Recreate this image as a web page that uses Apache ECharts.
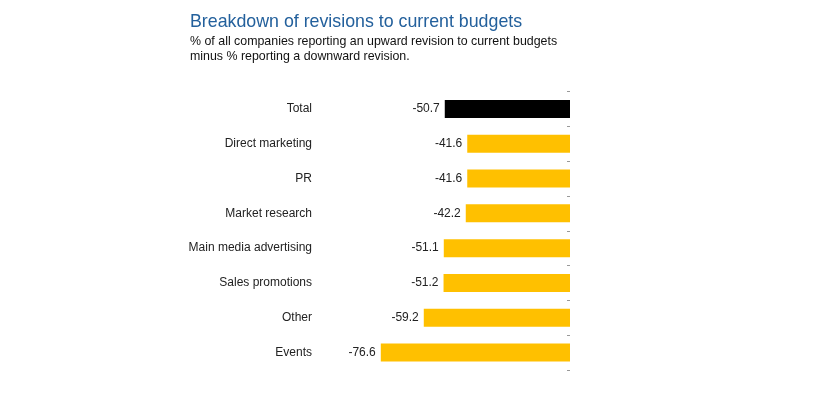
<!DOCTYPE html>
<html>
<head>
<meta charset="utf-8">
<script src="https://cdn.jsdelivr.net/npm/echarts@6/dist/echarts.min.js"></script>
<style>
  html, body { margin: 0; padding: 0; background: #fff; }
  #chart { width: 827px; height: 398px; }
</style>
</head>
<body>
<div id="chart"></div>
<script>
const categories = [
  "Total",
  "Direct marketing",
  "PR",
  "Market research",
  "Main media advertising",
  "Sales promotions",
  "Other",
  "Events",
];
const values = [-50.7, -41.6, -41.6, -42.2, -51.1, -51.2, -59.2, -76.6];
const barColors = ["#000000", "#FFC000", "#FFC000", "#FFC000", "#FFC000", "#FFC000", "#FFC000", "#FFC000"];

const chart = echarts.init(document.getElementById("chart"));
chart.setOption({
  animation: false,
  textStyle: { fontFamily: "Liberation Sans, Arial, sans-serif" },
  title: {
    text: "Breakdown of revisions to current budgets",
    subtext: "% of all companies reporting an upward revision to current budgets\nminus % reporting a downward revision.",
    left: 185,
    top: 8,
    itemGap: 3,
    textStyle: { color: "#23609c", fontSize: 17.8, fontWeight: "normal" },
    subtextStyle: { color: "#111", fontSize: 12.4, lineHeight: 15 },
  },
  grid: { left: 323, right: 257, top: 91.5, bottom: 28, containLabel: false },
  xAxis: {
    type: "value",
    min: -100,
    max: 0,
    show: false,
  },
  yAxis: [
    {
      type: "category",
      data: categories,
      inverse: true,
      position: "left",
      axisLine: { show: false },
      axisTick: { show: false },
      axisLabel: { color: "#222", fontSize: 12, margin: 11 },
    },
    {
      type: "category",
      data: categories,
      inverse: true,
      position: "right",
      axisLine: { show: false },
      axisTick: { show: true, inside: true, length: 3, lineStyle: { color: "#999" } },
      axisLabel: { show: false },
    },
  ],
  series: [
    {
      type: "bar",
      barWidth: 18,
      data: values.map((v, i) => ({ value: v, itemStyle: { color: barColors[i] } })),
      label: {
        show: true,
        position: "left",
        distance: 5,
        color: "#222",
        fontSize: 12,
        formatter: (p) => p.value.toFixed(1),
      },
    },
  ],
});
</script>
</body>
</html>
